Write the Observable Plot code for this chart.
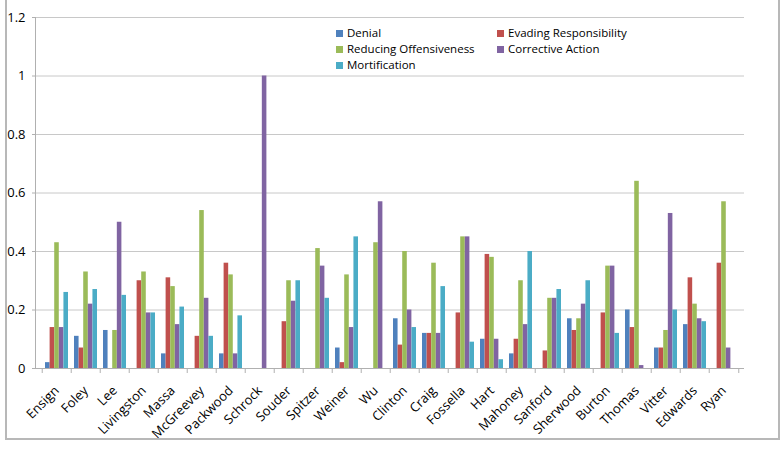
<!DOCTYPE html>
<html>
<head>
<meta charset="utf-8">
<script src="https://cdn.jsdelivr.net/npm/d3@7"></script>
<script src="https://cdn.jsdelivr.net/npm/@observablehq/plot@0.6"></script>
<style>
  html, body { margin: 0; padding: 0; background: #fff; }
  #wrap { position: relative; width: 784px; height: 450px; overflow: hidden; font-family: "Open Sans", sans-serif; }
  #border { position: absolute; left: 5px; top: -3px; width: 775px; height: 443px; border: 2px solid #b8b8b8; box-sizing: border-box; }
  #chart { position: absolute; left: 0; top: 0; }
  .lg { position: absolute; font-size: 11.5px; color: #000; white-space: nowrap; line-height: 14px; }
  .lg span.sw { display: inline-block; width: 7px; height: 7px; margin-right: 4px; vertical-align: 0px; }
</style>
</head>
<body>
<div id="wrap">
  <div id="border"></div>
  <div id="chart"></div>
</div>
<script>
const categories = ["Ensign","Foley","Lee","Livingston","Massa","McGreevey","Packwood","Schrock","Souder","Spitzer","Weiner","Wu","Clinton","Craig","Fossella","Hart","Mahoney","Sanford","Sherwood","Burton","Thomas","Vitter","Edwards","Ryan"];
const series = ["Denial","Evading Responsibility","Reducing Offensiveness","Corrective Action","Mortification"];
const denial         = [0.02,0.11,0.13,0,   0.05,0,   0.05,0,0,   0,   0.07,0,   0.17,0.12,0,   0.10,0.05,0,   0.17,0,   0.20,0.07,0.15,0];
const evading        = [0.14,0.07,0,   0.30,0.31,0.11,0.36,0,0.16,0,   0.02,0,   0.08,0.12,0.19,0.39,0.10,0.06,0.13,0.19,0.14,0.07,0.31,0.36];
const reducing       = [0.43,0.33,0.13,0.33,0.28,0.54,0.32,0,0.30,0.41,0.32,0.43,0.40,0.36,0.45,0.38,0.30,0.24,0.17,0.35,0.64,0.13,0.22,0.57];
const corrective     = [0.14,0.22,0.50,0.19,0.15,0.24,0.05,1,0.23,0.35,0.14,0.57,0.20,0.12,0.45,0.10,0.15,0.24,0.22,0.35,0.01,0.53,0.17,0.07];
const mortification  = [0.26,0.27,0.25,0.19,0.21,0.11,0.18,0,0.30,0.24,0.45,0,   0.14,0.28,0.09,0.03,0.40,0.27,0.30,0.12,0,   0.20,0.16,0];
const colors = ["#4F81BD","#C0504D","#9BBB59","#8064A2","#4BACC6"];
const yTicks = [0,0.2,0.4,0.6,0.8,1,1.2];

const valuesBySeries = [denial, evading, reducing, corrective, mortification];

const W = 784, H = 450, mL = 35, mR = 40, mT = 17, mB = 82;
const padIn = 0.22;
const step = (W - mL - mR) / categories.length;
const bw = step * (1 - padIn);
const sub = bw / series.length;
const grey = "#b0b0b0";

const barMarks = series.map((s, j) => Plot.barY(
  categories.map((c, i) => ({name: c, strategy: s, value: valuesBySeries[j][i]})).filter(d => d.value > 0),
  {x: "name", y: "value", fill: colors[j], insetLeft: j * sub, insetRight: (series.length - 1 - j) * sub}
));

const chart = Plot.plot({
  width: W, height: H,
  marginLeft: mL, marginRight: mR, marginTop: mT, marginBottom: mB,
  style: {fontFamily: "'Open Sans', sans-serif", background: "transparent", color: "#000", overflow: "visible"},
  x: {domain: categories, paddingInner: padIn, paddingOuter: padIn / 2, label: null},
  y: {domain: [0, 1.2], label: null},
  marks: [
    Plot.ruleY(yTicks.slice(1), {stroke: "#c8c8c8", strokeWidth: 1}),
    Plot.ruleY([0], {stroke: grey, strokeWidth: 1}),
    Plot.frame({anchor: "left", stroke: grey}),
    Plot.axisY(yTicks, {tickFormat: d => String(d), tickSize: 3, tickPadding: 7, stroke: grey, fontSize: 13, label: null}),
    ...barMarks,
    Plot.axisX({text: null, tickSize: 5, dx: -step / 2, stroke: grey, label: null}),
    Plot.axisX(["Ryan"], {text: null, tickSize: 5, dx: step / 2, stroke: grey, label: null}),
    Plot.axisX({tickSize: 0, tickRotate: -45, tickPadding: 20, fontSize: 13, label: null})
  ]
});
document.getElementById("chart").appendChild(chart);

// legend
const wrap = document.getElementById("wrap");
const colX = [336, 497];
const rowY = [26, 42, 58];
series.forEach((s, i) => {
  const el = document.createElement("div");
  el.className = "lg";
  el.style.left = colX[i % 2] + "px";
  el.style.top = rowY[Math.floor(i / 2)] + "px";
  el.innerHTML = `<span class="sw" style="background:${colors[i]}"></span>${s}`;
  wrap.appendChild(el);
});
</script>
</body>
</html>
